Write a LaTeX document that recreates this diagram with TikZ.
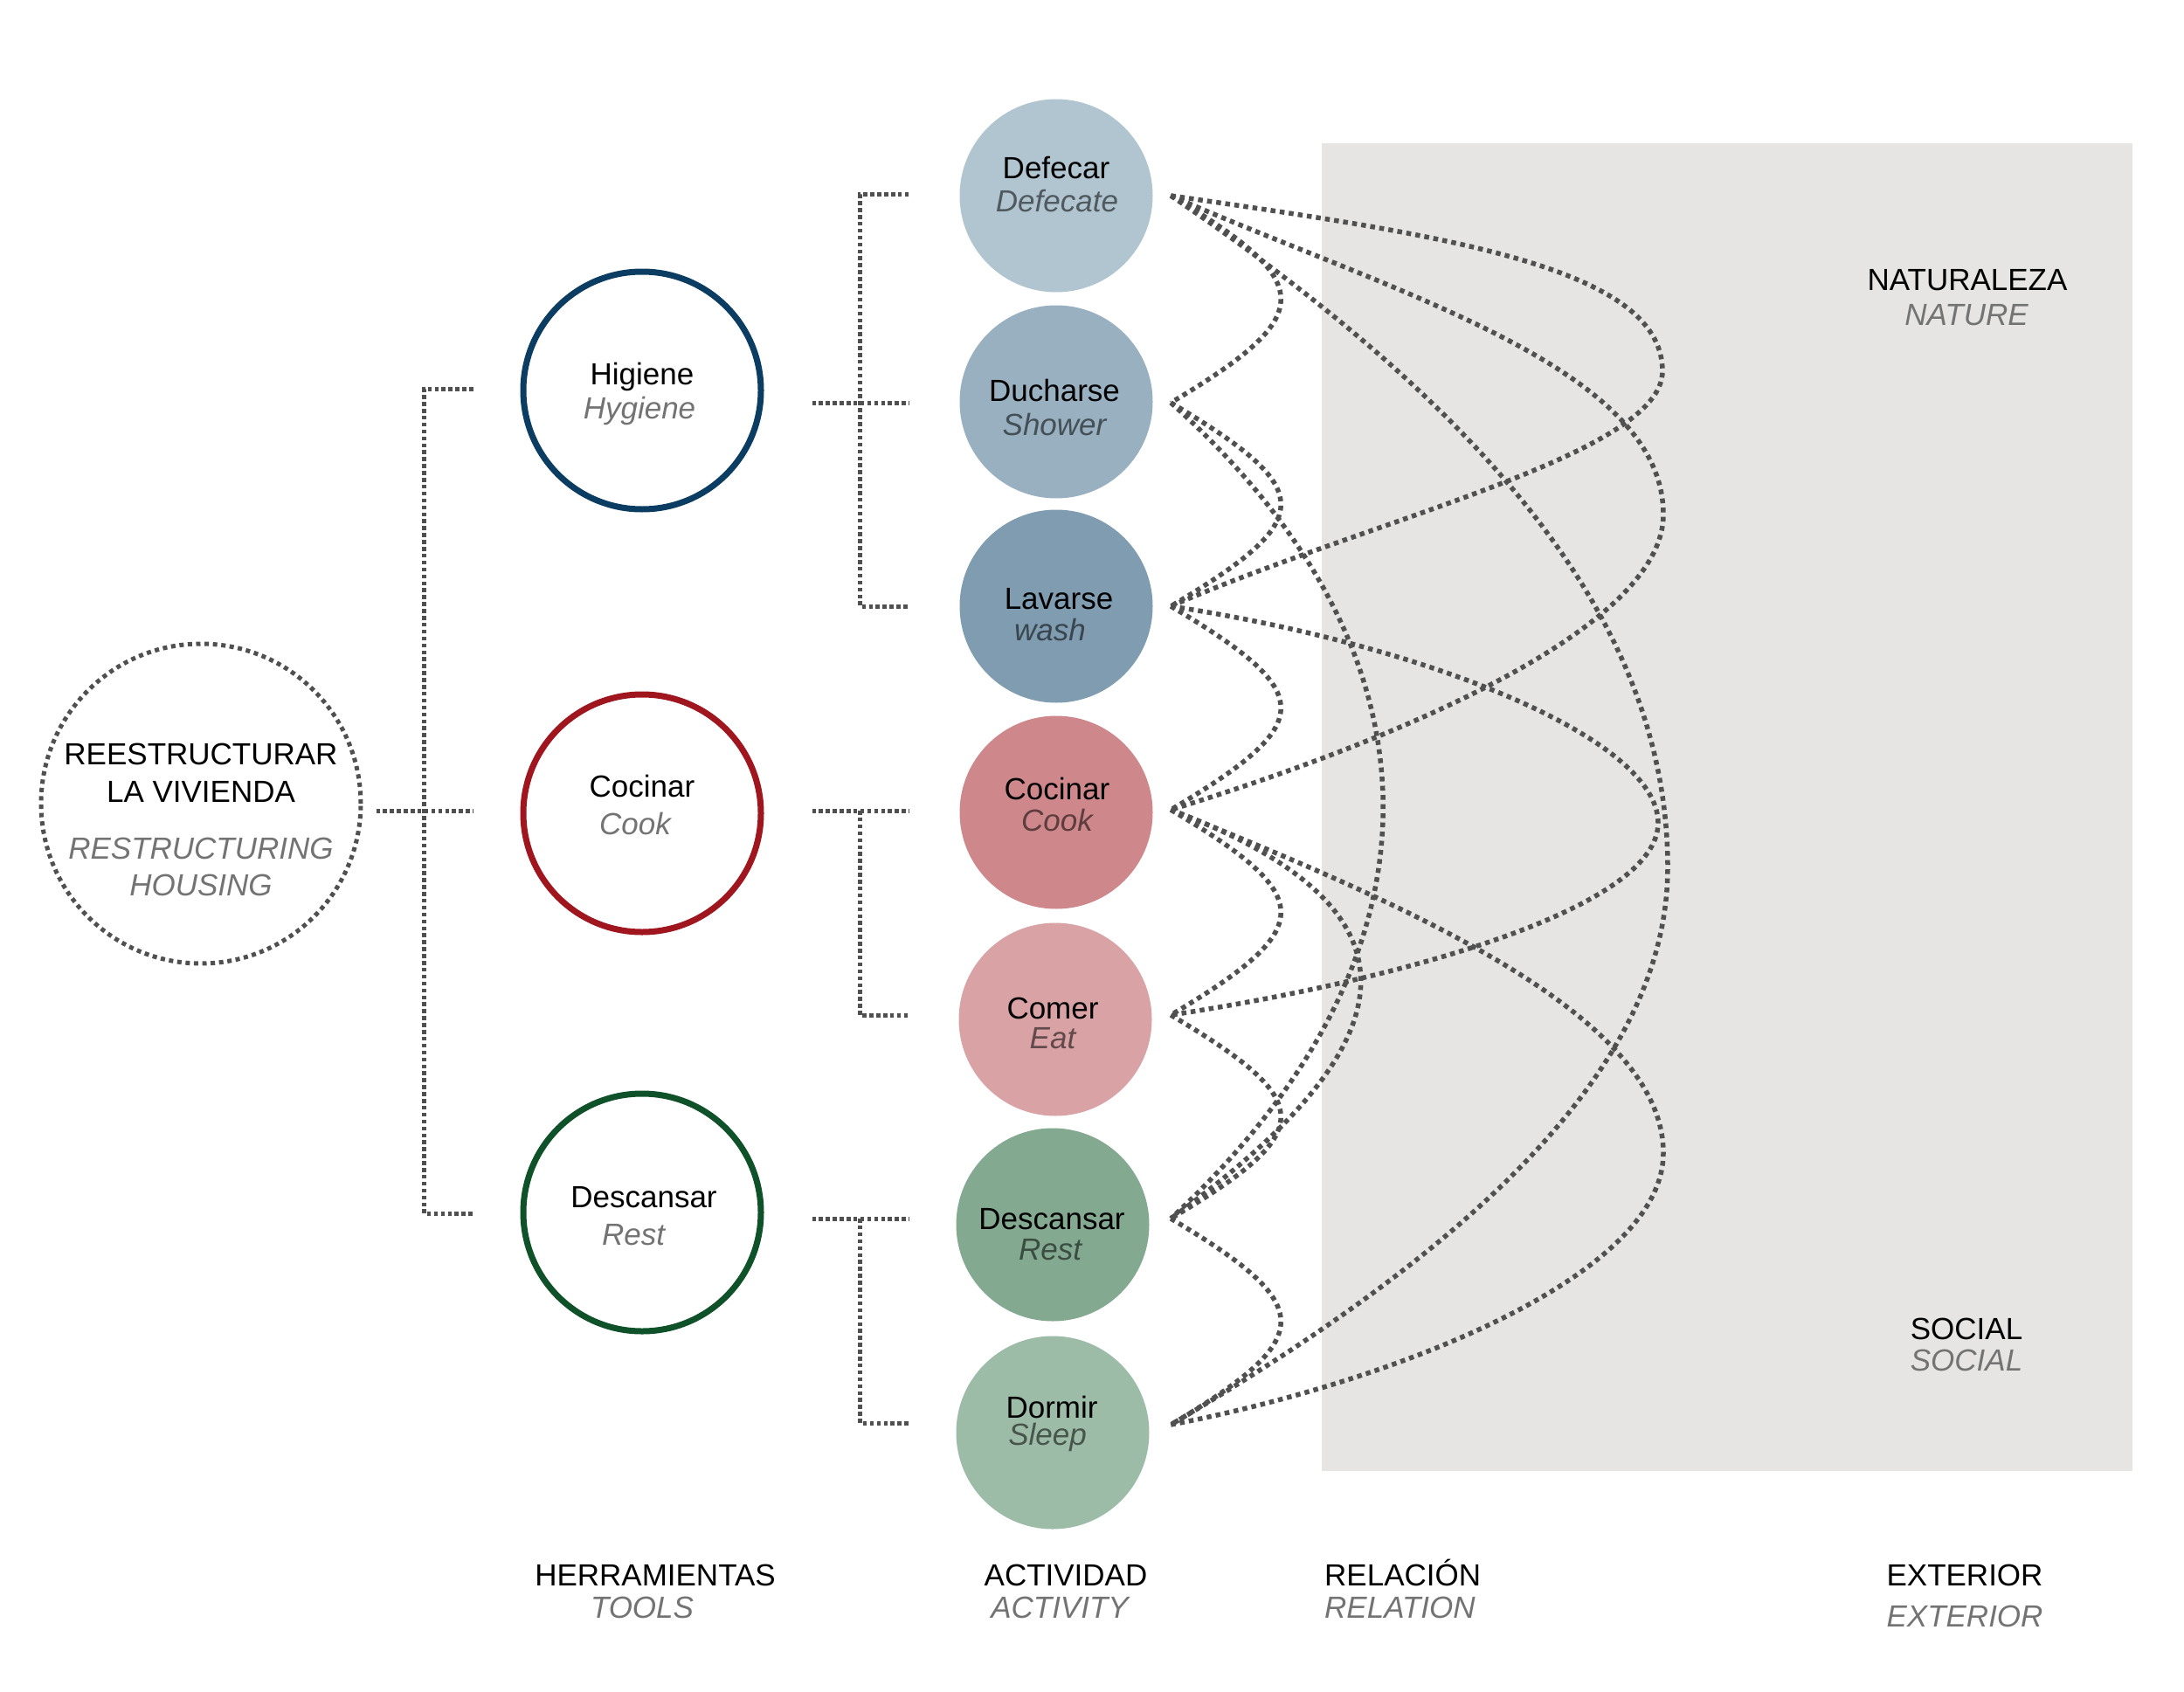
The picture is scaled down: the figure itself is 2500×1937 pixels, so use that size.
\documentclass[tikz,border=0pt]{standalone}
\usepackage{fontspec}
\setmainfont{Liberation Sans}
\usetikzlibrary{calc}
\definecolor{dotc}{HTML}{505050}
\definecolor{boxc}{HTML}{E6E5E3}
\definecolor{engc}{HTML}{737373}
\definecolor{cdef}{HTML}{B1C5D1}
\definecolor{cduc}{HTML}{98B0C0}
\definecolor{clav}{HTML}{7F9CB0}
\definecolor{ccoc}{HTML}{CE878A}
\definecolor{ccom}{HTML}{D9A3A6}
\definecolor{cdes}{HTML}{84A991}
\definecolor{cdor}{HTML}{9DBCA8}
\definecolor{thig}{HTML}{0B3D63}
\definecolor{tcoc}{HTML}{A0161F}
\definecolor{tdes}{HTML}{0F5128}
\begin{document}
\begin{tikzpicture}[x=1pt,y=-1pt,
  every node/.style={font=\fontsize{35}{40}\selectfont},
  actc/.style={circle,minimum size=221pt,inner sep=0pt,draw=none,fill=#1},
  toolc/.style={circle,minimum size=272pt,inner sep=0pt,draw=#1,line width=7pt,fill=white},
  rootc/.style={circle,minimum size=366pt,inner sep=0pt,draw=dotc,line width=5pt,dash pattern=on 5pt off 4.6pt},
  t1/.style={anchor=base,inner sep=0pt,text=black},
  t2/.style={anchor=base,inner sep=0pt,font=\fontsize{35}{40}\selectfont\itshape,text=#1},
  t2/.default=engc,
  conn/.style={draw=dotc,line width=5.5pt,dash pattern=on 5.5pt off 5pt},
  brk/.style={draw=dotc,line width=5pt,dash pattern=on 4.5pt off 3.4pt}]

\useasboundingbox (0,0) rectangle (2500,1937);
\fill[white] (0,0) rectangle (2500,1937);

% exterior field
\node[fill=boxc,minimum width=928pt,minimum height=1520pt,inner sep=0pt,anchor=north west] (ext) at (1513,164) {};

% root
\node[rootc] (root) at (230,920) {};
\node[t1] (rootA) at (230,875) {REESTRUCTURAR};
\node[t1] (rootB) at (230,918) {LA VIVIENDA};
\node[t2] (rootC) at (230,983) {RESTRUCTURING};
\node[t2] (rootD) at (230,1025) {HOUSING};

% tools
\node[toolc=thig] (hig) at (735,447) {};
\node[toolc=tcoc] (tco) at (735,931) {};
\node[toolc=tdes] (tde) at (735,1388) {};
\node[t1] (higA) at (735,440) {Higiene};
\node[t2] (higB) at (732,479) {Hygiene};
\node[t1] (tcoA) at (735,912) {Cocinar};
\node[t2] (tcoB) at (727,955) {Cook};
\node[t1] (tdeA) at (737,1382) {Descansar};
\node[t2] (tdeB) at (725,1425) {Rest};

% activities
\node[actc=cdef] (def) at (1209,224) {};
\node[actc=cduc] (duc) at (1209,460) {};
\node[actc=clav] (lav) at (1209,694) {};
\node[actc=ccoc] (coc) at (1209,930) {};
\node[actc=ccom] (com) at (1208,1167) {};
\node[actc=cdes] (des) at (1205,1402) {};
\node[actc=cdor] (dor) at (1205,1640) {};

\node[t1] (defA) at (1209,205) {Defecar};
\node[t2=black!55!cdef] (defB) at (1210,242) {Defecate};
\node[t1] (ducA) at (1207,459) {Ducharse};
\node[t2=black!55!cduc] (ducB) at (1207,498) {Shower};
\node[t1] (lavA) at (1212,697) {Lavarse};
\node[t2=black!55!clav] (lavB) at (1202,733) {wash};
\node[t1] (cocA) at (1210,915) {Cocinar};
\node[t2=black!55!ccoc] (cocB) at (1210,951) {Cook};
\node[t1] (comA) at (1205,1166) {Comer};
\node[t2=black!55!ccom] (comB) at (1205,1200) {Eat};
\node[t1] (desA) at (1204,1407) {Descansar};
\node[t2=black!55!cdes] (desB) at (1202,1442) {Rest};
\node[t1] (dorA) at (1204,1623) {Dormir};
\node[t2=black!55!cdor] (dorB) at (1199,1654) {Sleep};

% labels
\node[t1] (natA) at (2252,332) {NATURALEZA};
\node[t2] (natB) at (2251,372) {NATURE};
\node[t1] (socA) at (2251,1533) {SOCIAL};
\node[t2] (socB) at (2251,1569) {SOCIAL};
\node[t1] (herA) at (750,1815) {HERRAMIENTAS};
\node[t2] (herB) at (735,1852) {TOOLS};
\node[t1] (actA) at (1220,1815) {ACTIVIDAD};
\node[t2] (actB) at (1213,1852) {ACTIVITY};
\node[t1,anchor=base west] (relA) at (1516,1815) {RELACIÓN};
\node[t2,anchor=base west] (relB) at (1516,1852) {RELATION};
\node[t1] (extA) at (2249,1815) {EXTERIOR};
\node[t2] (extB) at (2249,1862) {EXTERIOR};

% bracket root -> tools
\coordinate (r0) at ($(root.east)+(15,8)$);
\coordinate (bt1) at ($(hig.west)+(-54,-2)$);
\coordinate (bt2) at ($(tco.west)+(-54,-3)$);
\coordinate (bt3) at ($(tde.west)+(-54,1)$);
\draw[brk] (bt1) -- ++(-56,0) |- (bt3);
\draw[brk] (r0) -- (bt2);

% activity stubs
\coordinate (a1) at ($(def.west)+(-58,-1)$);
\coordinate (a2) at ($(duc.west)+(-58,1)$);
\coordinate (a3) at ($(lav.west)+(-58,0)$);
\coordinate (a4) at ($(coc.west)+(-58,-2)$);
\coordinate (a5) at ($(com.west)+(-57,-5)$);
\coordinate (a6) at ($(des.west)+(-53.5,-7)$);
\coordinate (a7) at ($(dor.west)+(-53.5,-11)$);
\coordinate (h0) at ($(hig.east)+(55,14)$);
\coordinate (c0) at ($(tco.east)+(55,-3)$);
\coordinate (d0) at ($(tde.east)+(55,7)$);
\draw[brk] (a1) -- ++(-56,0) |- (a3);
\draw[brk] (h0) -- (a2);
\draw[brk] (c0) -- (a4);
\draw[brk] ($(a4)+(-56,0)$) |- (a5);
\draw[brk] (d0) -- (a6);
\draw[brk] ($(a6)+(-56,0)$) |- (a7);

% relation end points
\coordinate (e1) at ($(def.east)+(20.5,0)$);
\coordinate (e2) at ($(duc.east)+(20.5,1)$);
\coordinate (e3) at ($(lav.east)+(20.5,0)$);
\coordinate (e4) at ($(coc.east)+(20.5,-3)$);
\coordinate (e5) at ($(com.east)+(21.5,-5)$);
\coordinate (e6) at ($(des.east)+(24.5,-7)$);
\coordinate (e7) at ($(dor.east)+(24.5,-9)$);

% neighbour wiggles
\draw[conn] (e1) .. controls +(168,100) and +(168,-100) .. (e2);
\draw[conn] (e2) .. controls +(168,100) and +(168,-100) .. (e3);
\draw[conn] (e3) .. controls +(168,100) and +(168,-100) .. (e4);
\draw[conn] (e4) .. controls +(168,100) and +(168,-100) .. (e5);
\draw[conn] (e5) .. controls +(168,100) and +(168,-100) .. (e6);
\draw[conn] (e6) .. controls +(168,100) and +(168,-100) .. (e7);

% arcs
\draw[conn] (e2) .. controls +(324,290) and +(324,-300) .. (e6);
\draw[conn] (e4) .. controls +(290,110) and +(290,-210) .. (e6);
\draw[conn] (e1) .. controls +(330,225) and +(0,-300) .. (1909,993)
                 .. controls +(0,250) and +(300,-177) .. (e7);

% loops
\draw[conn] (e1) .. controls +(310,45) and +(0,-120) .. (1903,425)
                 .. controls +(0,95) and +(230,-100) .. (e3);
\draw[conn] (e1) .. controls +(250,110) and +(0,-170) .. (1904,589)
                 .. controls +(0,130) and +(260,-80) .. (e4);
\draw[conn] (e3) .. controls +(300,46) and +(0,-95) .. (1898,942)
                 .. controls +(0,95) and +(280,-43) .. (e5);
\draw[conn] (e4) .. controls +(260,105) and +(0,-160) .. (1904,1320)
                 .. controls +(0,140) and +(260,-50) .. (e7);
\end{tikzpicture}
\end{document}
